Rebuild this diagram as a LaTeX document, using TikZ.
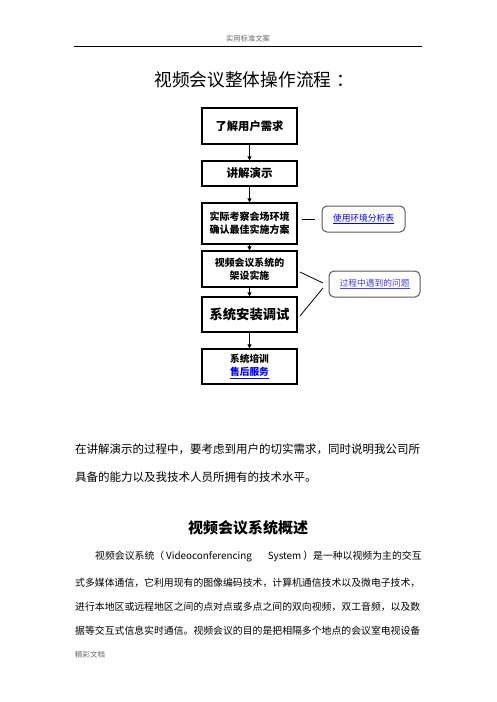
\documentclass[tikz,border=0pt]{standalone}
\usepackage{fontspec}
\setmainfont{Noto Sans CJK SC}
\usetikzlibrary{arrows.meta}
\newcommand{\fs}[1]{\fontsize{#1}{#1}\selectfont}
\begin{document}
\begin{tikzpicture}[x=1pt,y=-1pt,
  flowbox/.style={draw=black,line width=1.2pt,minimum width=95pt,align=center,inner sep=0pt,font=\bfseries},
  sidebox/.style={draw=black!65,line width=1pt,rounded corners=5pt,inner sep=0pt,text=blue},
  flowarrow/.style={line width=0.8pt,-{Triangle[length=4pt,width=4pt]}},
  linkline/.style={line width=0.8pt},
  txt/.style={anchor=west,inner sep=0pt}]
\path[fill=white,use as bounding box] (0,0) rectangle (496,702);
% header
\node[inner sep=0pt,text=black!60,font=\fs{7.3}] (hdr) at (248,39) {实用标准文案};
\coordinate (hl) at (74,46);
\coordinate (hr) at (422,46);
\draw[line width=1pt] (hl) -- (hr);
% title
\node[inner sep=0pt,font=\fs{17.7}] (title) at (254.5,80) {视频会议整体操作流程\hspace{0.3em}：};
% flow boxes
\node[flowbox,minimum height=36pt,font=\bfseries\fs{11.3}] (b1) at (249.5,126) {了解用户需求};
\node[flowbox,minimum height=25pt,font=\bfseries\fs{11.5}] (b2) at (249.5,173.5) {讲解演示};
\node[flowbox,minimum height=41pt,font=\bfseries\fs{10}] (b3) at (249.5,223.5) {实际考察会场环境\\[3pt]确认最佳实施方案};
\node[flowbox,minimum height=36pt,font=\bfseries\fs{9.9}] (b4) at (249.5,269) {视频会议系统的\\[3pt]架设实施};
\node[flowbox,minimum height=35pt,font=\bfseries\fs{13.3}] (b5) at (249.5,314.5) {系统安装调试};
\node[flowbox,minimum height=35pt,font=\bfseries\fs{9.7}] (b6) at (249.5,366.5) {系统培训\\[3pt]\textcolor{blue}{\underline{售后服务}}};
\foreach \a/\b in {b1/b2,b2/b3,b3/b4,b4/b5,b5/b6}
  \draw[flowarrow] (\a.south) -- (\b.north);
% side boxes
\node[sidebox,minimum width=83pt,minimum height=26pt,font=\fs{8.7}] (s1) at (363.5,219) {\underline{使用环境分析表}};
\node[sidebox,minimum width=91pt,minimum height=26pt,font=\fs{8.75},text=blue!75] (s2) at (374.5,284) {\underline{过程中遇到的问题}};
\draw[linkline,shorten <=4pt,shorten >=7pt] (b3.east |- s1.west) -- (s1.west);
\coordinate (c4) at (300,272);
\coordinate (c5) at (300,316);
\coordinate (e4) at (323,283);
\coordinate (e5) at (323,288);
\draw[linkline] (c4) -- (e4);
\draw[linkline] (c5) -- (e5);
% paragraph 1
\node[txt,font=\fs{11.5}] (p1) at (75,449) {在讲解演示的过程中，要考虑到用户的切实需求，同时说明我公司所};
\node[txt,font=\fs{11.5}] (p2) at (75,477) {具备的能力以及我技术人员所拥有的技术水平。};
% heading
\node[inner sep=0pt,font=\bfseries\fs{15}] (h2) at (248,528) {视频会议系统概述};
% paragraph 2
\node[txt,font=\fs{9.86}] (q1) at (95,557) {视频会议系统（\hspace{0.2em}Videoconferencing\hspace{1.6em}System\hspace{0.2em}）是一种以视频为主的交互};
\node[txt,font=\fs{9.86}] (q2) at (75,583) {式多媒体通信，它利用现有的图像编码技术，计算机通信技术以及微电子技术，};
\node[txt,font=\fs{9.86}] (q3) at (75,607) {进行本地区或远程地区之间的点对点或多点之间的双向视频，双工音频，以及数};
\node[txt,font=\fs{9.86}] (q4) at (75,631) {据等交互式信息实时通信。视频会议的目的是把相隔多个地点的会议室电视设备};
% footer
\node[txt,font=\fs{7.5},text=black!60] (ftr) at (75,655) {精彩文档};
\end{tikzpicture}
\end{document}
